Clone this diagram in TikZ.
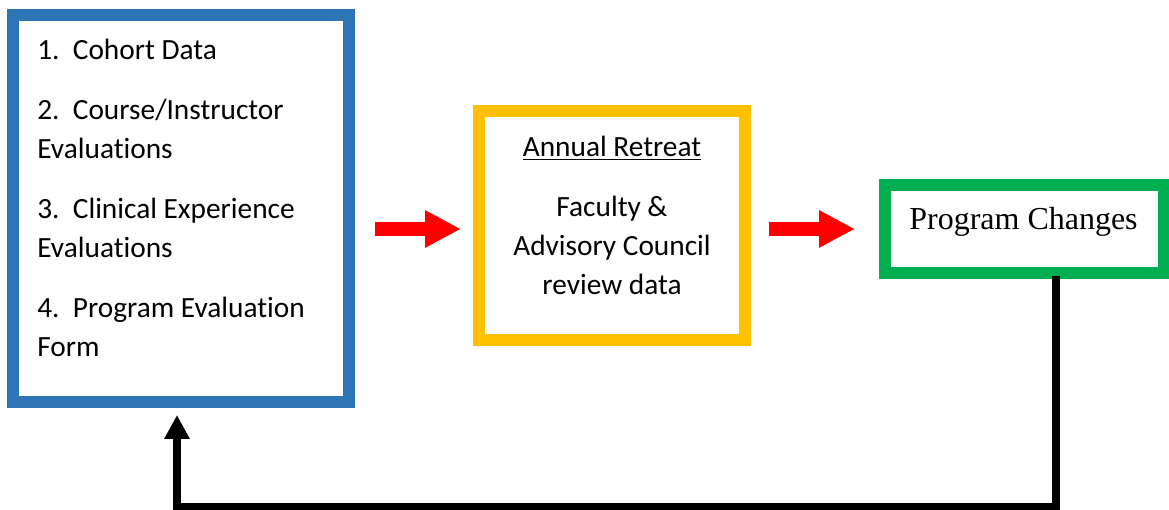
\documentclass[tikz,border=0pt]{standalone}
\usepackage{fontspec}
\setmainfont{Carlito}[RawFeature={-liga;-dlig;-calt;-clig}]
\newfontfamily\changesfont{Liberation Serif}
\usepackage{tikz}
\usetikzlibrary{arrows.meta,positioning}

\definecolor{evalblue}{RGB}{46,117,182}
\definecolor{retreatgold}{RGB}{255,192,0}
\definecolor{changegreen}{RGB}{0,176,80}

\begin{document}
\begin{tikzpicture}[
  panel/.style={draw, line width=0.24cm, fill=white, inner sep=0pt},
  txt/.style={font=\fontsize{16.7}{22.2}\selectfont, inner sep=0pt},
  flow/.style={red, line width=0.29cm, -{Triangle[length=0.72cm, width=0.7cm]}},
  loopback/.style={black, line width=0.16cm, -{Triangle[length=0.48cm, width=0.48cm]}}]
\useasboundingbox (0,0) rectangle (23.38,10.2);

% ---------- the three boxes ----------
\node[panel, draw=evalblue, minimum width=6.72cm, minimum height=7.74cm] (data) at (3.62,6.03) {};
\node[panel, draw=retreatgold, minimum width=5.32cm, minimum height=4.58cm] (retreat) at (12.24,5.69) {};
\node[panel, draw=changegreen, minimum width=5.58cm, minimum height=1.76cm] (changes) at (20.49,5.62) {};

% ---------- box texts ----------
\node[txt, anchor=north west, align=left] (sources) at (0.74,9.43)
  {1.\ \ Cohort Data\\[0.42cm]
   2.\ \ Course/Instructor\\Evaluations\\[0.42cm]
   3.\ \ Clinical Experience\\Evaluations\\[0.42cm]
   4.\ \ Program Evaluation\\Form};
\node[txt, anchor=north, align=center] (review) at (12.24,7.49)
  {\underline{Annual Retreat}\\[0.42cm]
   Faculty \&\\Advisory Council\\review data};
\node[anchor=base, inner sep=0pt, font=\changesfont\fontsize{18.2}{22}\selectfont]
  (changestxt) at (20.47,5.6) {Program Changes};

% ---------- forward arrows ----------
\draw[flow, shorten <=0.4cm, shorten >=0.24cm] (data.east |- changes) -- (retreat.west |- changes);
\draw[flow, shorten <=0.36cm, shorten >=0.48cm] (retreat.east |- changes) -- (changes.west);

% ---------- feedback loop ----------
\coordinate (turn) at (21.12,0.05);
\coordinate (low) at (3.54,0.05);
\draw[loopback, shorten >=0.14cm] ([yshift=0.06cm]changes.south -| turn) -- (turn) -- (low) -- (data.south -| low);
\end{tikzpicture}
\end{document}
